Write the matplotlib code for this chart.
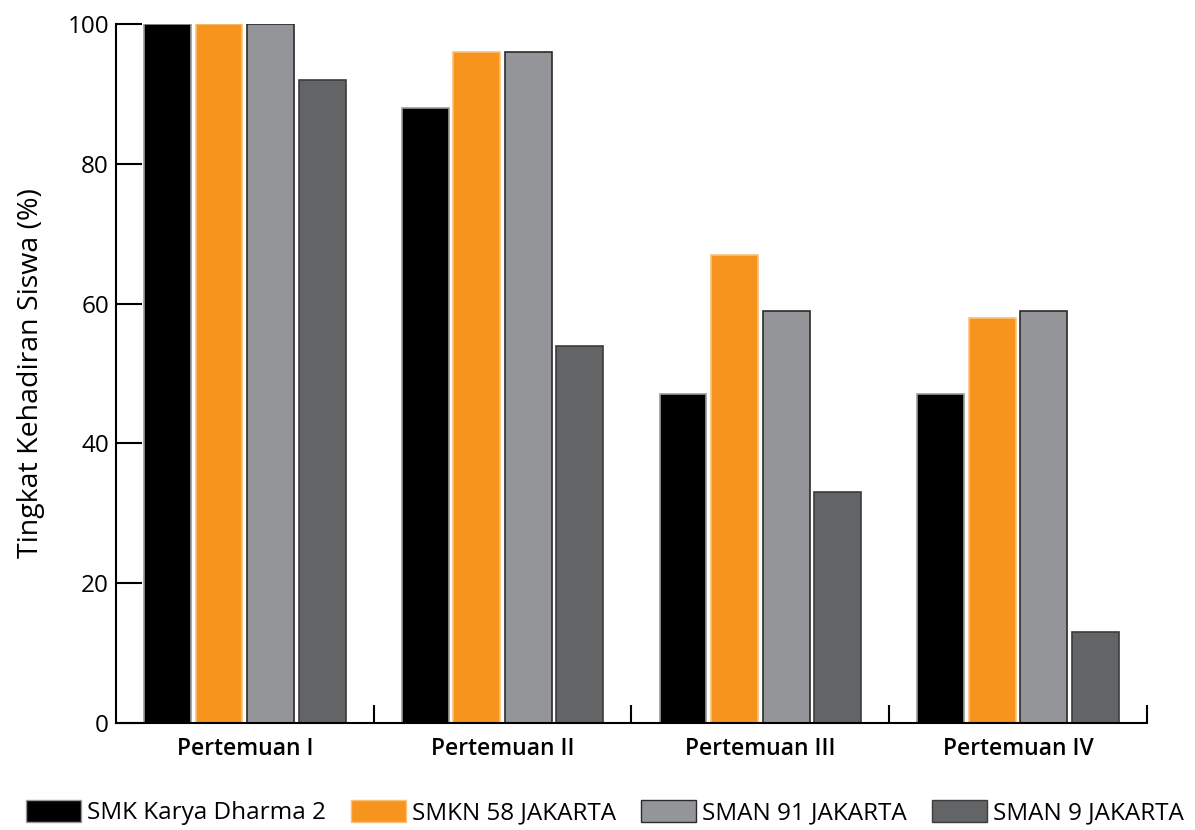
import matplotlib.pyplot as plt
from matplotlib.patches import Patch
import numpy as np

# Attendance per meeting, one list per school
meetings = ["Pertemuan I", "Pertemuan II", "Pertemuan III", "Pertemuan IV"]
schools = ["SMK Karya Dharma 2", "SMKN 58 JAKARTA", "SMAN 91 JAKARTA", "SMAN 9 JAKARTA"]
smk_karya_dharma = [100, 88, 47, 47]
smkn_58 = [100, 96, 67, 58]
sman_91 = [100, 96, 59, 59]
sman_9 = [92, 54, 33, 13]

series = [smk_karya_dharma, smkn_58, sman_91, sman_9]
colors = ["#000000", "#F7941D", "#939598", "#636466"]
edges = ["#9a9a9a", "#FBC07A", "#2b2b2b", "#3c3c3c"]

plt.rcParams['font.family'] = ['Open Sans', 'DejaVu Sans']

fig = plt.figure(figsize=(11.95, 8.3), dpi=100)
ax = fig.add_axes([0.097, 0.129, 0.8628, 0.842])
ax.set_axisbelow(False)

x = np.arange(len(meetings))
slot = 0.2
for i, vals in enumerate(series):
	ax.bar(x + (i - 1.5) * slot, vals, width=0.182, color=colors[i],
		edgecolor=edges[i], linewidth=1.2)

ax.set_xlim(-0.5, 3.5)
ax.set_ylim(0, 100)
ax.set_yticks([0, 20, 40, 60, 80, 100])
# y ticks point into the plot, long ones
ax.yaxis.set_tick_params(which='major', left=True, direction='in',
	length=18.5, width=1.5, color='black', labelsize=17.5, pad=5)
ax.set_xticks(x)
ax.set_xticklabels(meetings, fontsize=16.5, fontweight='semibold')
ax.tick_params(axis='x', length=0, pad=10)
ax.set_xticks([0.5, 1.5, 2.5, 3.5], minor=True)
ax.tick_params(axis='x', which='minor', direction='in', length=13, width=1.5)

for s in ['top', 'right']:
	ax.spines[s].set_visible(False)
for s in ['left', 'bottom']:
	ax.spines[s].set_linewidth(1.5)

ax.set_ylabel("Tingkat Kehadiran Siswa (%)", fontsize=20.5, labelpad=16)

handles = [Patch(facecolor=colors[i], edgecolor=edges[i], label=schools[i])
	for i in range(4)]
fig.legend(handles=handles, loc='center', bbox_to_anchor=(0.506, 0.021),
	ncol=4, frameon=False, fontsize=17.5,
	handlelength=2.26, handleheight=0.99, columnspacing=1.03,
	handletextpad=0.25, borderpad=0, borderaxespad=0)

fig.savefig("out.png", dpi=100)
